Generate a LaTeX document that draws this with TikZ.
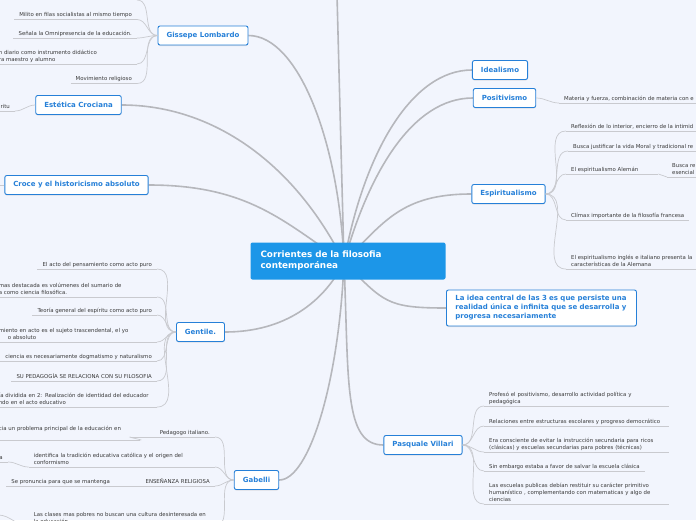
\documentclass[tikz,border=0pt]{standalone}
\usepackage{fontspec}
\setmainfont{DejaVu Sans}
\usetikzlibrary{backgrounds,shadows}

\definecolor{bgcol}{HTML}{F2F5FD}
\definecolor{nodeblue}{HTML}{2680D8}
\definecolor{rootblue}{HTML}{1C96E8}
\definecolor{trunkcol}{HTML}{B6B7BC}
\definecolor{branchcol}{HTML}{C9CACF}
\definecolor{leaftext}{HTML}{3A3A3A}

\newcommand\leaffont{\fontsize{5.4}{6.6}\selectfont}
\newcommand\topicfont{\fontsize{7}{9}\selectfont\bfseries}
\newcommand\rootfont{\fontsize{8.8}{11}\selectfont\bfseries}

\begin{document}
\begin{tikzpicture}[x=1pt, y=-1pt,
  topic/.style={draw=nodeblue, fill=white, line width=0.9pt, rounded corners=2pt, text=nodeblue,
    font=\topicfont, inner xsep=8.5pt, minimum height=19pt,
    drop shadow={shadow xshift=0pt, shadow yshift=-1pt, opacity=0.2}},
  rootbox/.style={fill=rootblue, rounded corners=2pt, text=white, font=\rootfont, align=left,
    text width=175pt, inner xsep=10pt, minimum height=37pt},
  uline/.style={draw=branchcol, line width=0.7pt},
  leaf/.style={font=\leaffont, text=leaftext, align=left, inner xsep=5pt, inner ysep=1.5pt,
    execute at end node={\vphantom{p}},
    append after command={(\tikzlastnode.south west) edge[uline] (\tikzlastnode.south east)}},
  trunk/.style={draw=trunkcol, line width=1.6pt},
  branch/.style={draw=branchcol, line width=0.7pt}
]
\useasboundingbox (0,0) rectangle (696,520);
\begin{scope}[on background layer]
\fill[bgcol] (0,0) rectangle (696,520);
\end{scope}

\coordinate (hub) at (344,262);
\coordinate (ptop) at (337,-5);

\node[rootbox] (root) at (348,261) {Corrientes de la filosofia\\contemporánea};

\node[topic] (gis) at (203,35.5) {Gissepe Lombardo};
\node[topic] (est) at (78.5,105) {Estética Crociana};
\node[topic] (croce) at (76.5,185) {Croce y el historicismo absoluto};
\node[topic] (gen) at (200.5,332) {Gentile.};
\node[topic] (gab) at (256.5,480) {Gabelli};
\node[topic] (ideal) at (500,70) {Idealismo};
\node[topic] (pos) at (504.5,98) {Positivismo};
\node[topic] (esp) at (508.5,194) {Espiritualismo};
\node[topic] (pas) at (423,445) {Pasquale Villari};
\node[topic, anchor=west, align=left, text width=172pt, inner xsep=9pt, minimum height=36pt] (idea) at (446,308)
  {La idea central de las 3 es que persiste una\\realidad única e infinita que se desarrolla y\\progresa necesariamente};

\begin{scope}[on background layer]
\draw[trunk] (hub) -- (ptop);
\draw[trunk] (hub) .. controls +(-5,-120) and +(50,0) .. (gis.east);
\draw[trunk] (hub) .. controls +(-50,-100) and +(90,0) .. (est.east);
\draw[trunk] (hub) .. controls +(-60,-40) and +(100,0) .. (croce.east);
\draw[trunk] (hub) .. controls +(-20,40) and +(60,0) .. (gen.east);
\draw[trunk] (hub) .. controls +(-5,120) and +(30,0) .. (gab.east);
\draw[trunk] (hub) .. controls +(20,-110) and +(-60,0) .. (ideal.west);
\draw[trunk] (hub) .. controls +(25,-90) and +(-60,0) .. (pos.west);
\draw[trunk] (hub) .. controls +(40,-40) and +(-70,0) .. (esp.west);
\draw[trunk] (hub) .. controls +(40,40) and +(-60,0) .. (idea.west);
\draw[trunk] (hub) .. controls +(5,120) and +(-40,0) .. (pas.west);
\end{scope}

\coordinate (gl0) at (137,0);
\node[leaf, anchor=south east] (gl1) at (137,19.5) {Milito en filas socialistas al mismo tiempo};
\node[leaf, anchor=south east] (gl2) at (137,38) {Señala la Omnipresencia de la educación.};
\node[leaf, anchor=south east, text width=133pt] (gl3) at (137,64) {n diario como instrumento didáctico\\ra maestro y alumno};
\node[leaf, anchor=south east] (gl4) at (137,83.5) {Movimiento religioso};
\draw[branch] (gis.west) to[out=180,in=0] (gl0);
\draw[branch] (gis.west) to[out=180,in=0] (gl1.south east);
\draw[branch] (gis.west) to[out=180,in=0] (gl2.south east);
\draw[branch] (gis.west) to[out=180,in=0] (gl3.south east);
\draw[branch] (gis.west) to[out=180,in=0] (gl4.south east);

\node[leaf, anchor=south east] (el1) at (15,111) {ritu};
\draw[branch] (est.west) to[out=180,in=0] (el1.south east);

\coordinate (cl1) at (-2,185);
\draw[branch] (croce.west) -- (cl1);

\node[leaf, anchor=south east] (ge1) at (157,269) {El acto del pensamiento como acto puro};
\node[leaf, anchor=south east, text width=153pt] (ge2) at (157,297) {mas destacada es volúmenes del sumario de\\a como ciencia filosófica.};
\node[leaf, anchor=south east] (ge3) at (157,315) {Teoría general del espíritu como acto puro};
\node[leaf, anchor=south east, text width=153pt] (ge4) at (157,342) {miento en acto es el sujeto trascendental, el yo\\\hspace*{9pt}o absoluto};
\node[leaf, anchor=south east] (ge5) at (157,361) {ciencia es necesariamente dogmatismo y naturalismo};
\node[leaf, anchor=south east] (ge6) at (157,381) {SU PEDAGOGÍA SE RELACIONA CON SU FILOSOFIA};
\node[leaf, anchor=south east, text width=153pt] (ge7) at (157,407) {ía dividida en 2: Realización de identidad del educador\\ndo en el acto educativo};
\foreach \n in {ge1,ge2,ge3,ge4,ge5,ge6,ge7}
  \draw[branch] (gen.west) to[out=180,in=0] (\n.south east);

\node[leaf, anchor=south east, text width=74pt, align=right] (gb1) at (215,437) {Pedagogo italiano.};
\node[leaf, anchor=south east, text width=136pt] (gb1a) at (140,440) {cia un problema principal de la educación en\\\mbox{}};
\node[leaf, anchor=south east, text width=176pt] (gb2) at (215,467) {identifica la tradición educativa católica y el origen del\\conformismo};
\node[leaf, anchor=south east] (gb2a) at (8,462) {a};
\node[leaf, anchor=south east] (gb3) at (215,486) {ENSEÑANZA RELIGIOSA};
\node[leaf, anchor=south east] (gb3a) at (115,486) {Se pronuncia para que se mantenga};
\node[leaf, anchor=south east, text width=176pt] (gb4) at (215,526) {Las clases mas pobres no buscan una cultura desinteresada en\\la educación};
\coordinate (gb4a) at (-2,515);
\foreach \n in {gb1,gb2,gb3,gb4}
  \draw[branch] (gab.west) to[out=180,in=0] (\n.south east);
\draw[branch] (gb1.south west) to[out=180,in=0] (gb1a.south east);
\draw[branch] (gb2.south west) to[out=180,in=0] (gb2a.south east);
\draw[branch] (gb3.south west) -- (gb3a.south east);
\draw[branch] (gb4.south west) to[out=180,in=0] (gb4a);

\node[leaf, anchor=south west] (pl1) at (559,103) {Materia y fuerza, combinación de materia con e};
\draw[branch] (pos.east) to[out=0,in=180] (pl1.south west);

\node[leaf, anchor=south west] (es1) at (566,131) {Reflexión de lo interior, encierro de la intimid};
\node[leaf, anchor=south west] (es2) at (568,151) {Busca justificar la vida Moral y tradicional re};
\node[leaf, anchor=south west, text width=82pt] (es3) at (566,174) {El espiritualismo Alemán};
\node[leaf, anchor=south west] (es3a) at (667,177) {Busca re\\esencial};
\node[leaf, anchor=south west] (es4) at (566,220) {Clímax importante de la filosofía francesa};
\node[leaf, anchor=south west] (es5) at (566,269) {El espiritualismo inglés e italiano presenta la\\características de la Alemana};
\foreach \n in {es1,es2,es3,es4,es5}
  \draw[branch] (esp.east) to[out=0,in=180] (\n.south west);
\draw[branch] (es3.south east) to[out=0,in=180] (es3a.south west);

\node[leaf, anchor=south west, text width=175pt] (pv1) at (484,406) {Profesó el positivismo, desarrollo actividad política y\\pedagógica};
\node[leaf, anchor=south west, text width=175pt] (pv2) at (484,426) {Relaciones entre estructuras escolares y progreso democrático};
\node[leaf, anchor=south west, text width=175pt] (pv3) at (484,452) {Era consciente de evitar la instrucción secundaria para ricos\\(clásicas) y escuelas secundarias para pobres (técnicas)};
\node[leaf, anchor=south west] (pv4) at (484,471) {Sin embargo estaba a favor de salvar la escuela clásica};
\node[leaf, anchor=south west, text width=175pt] (pv5) at (484,504) {Las escuelas publicas debían restituir su carácter primitivo\\humanístico , complementando con matematicas y algo de\\ciencias};
\foreach \n in {pv1,pv2,pv3,pv4,pv5}
  \draw[branch] (pas.east) to[out=0,in=180] (\n.south west);
\end{tikzpicture}
\end{document}
